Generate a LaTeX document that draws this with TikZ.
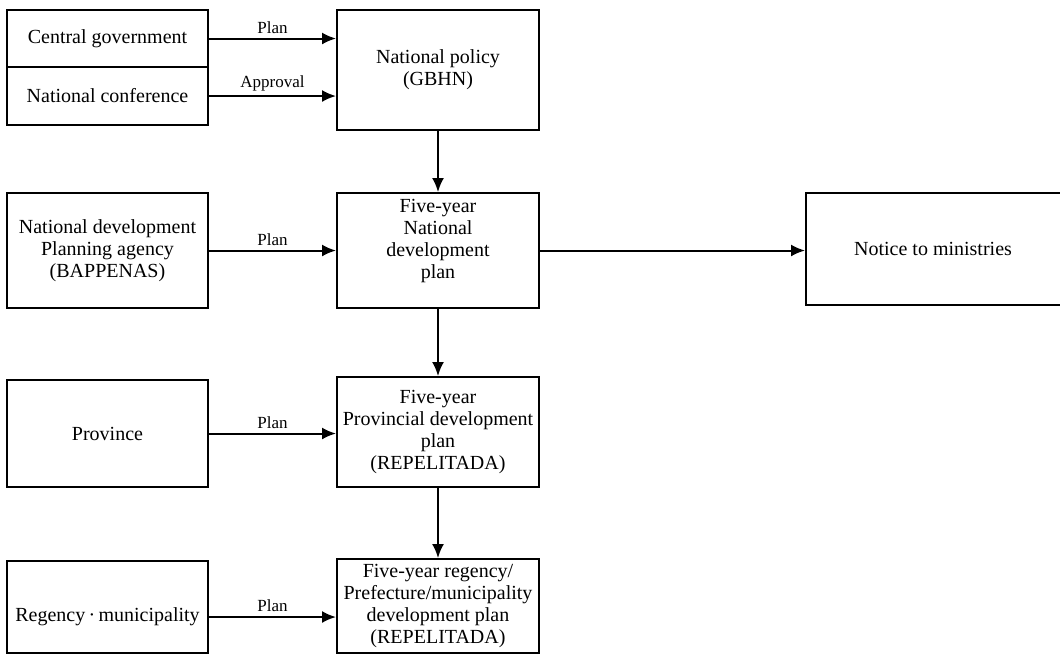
\documentclass[tikz,border=0pt]{standalone}
\usepackage{fontspec}
\setmainfont{Liberation Serif}
\usetikzlibrary{arrows.meta,calc}
\begin{document}
\begin{tikzpicture}[x=0.5pt,y=-0.5pt,
  box/.style={draw,line width=1pt,inner sep=0pt,align=center,font=\fontsize{10}{11}\selectfont},
  txt/.style={align=center,font=\fontsize{10}{11}\selectfont,inner sep=0pt},
  lbl/.style={font=\fontsize{8.5}{9}\selectfont,inner sep=2pt},
  arr/.style={line width=1pt,-{Latex[length=7pt,width=6pt]}}]
\clip (0,0) rectangle (1060,666);
\useasboundingbox (0,0) rectangle (1060,666);
% left column
\node[box,minimum width=100.5pt,minimum height=28.5pt] (cg) at (107.5,38.5) {Central government};
\node[box,minimum width=100.5pt,minimum height=29pt] (nc) at (107.5,96) {National conference};
\node[box,minimum width=100.5pt,minimum height=57.5pt] (bapp) at (107.5,250.5) {National development\\Planning agency\\(BAPPENAS)};
\node[box,minimum width=100.5pt,minimum height=53.5pt] (prov) at (107.5,433.5) {Province};
\node[box,minimum width=100.5pt,minimum height=46pt] (reg) at (107.5,607) {};
\node[txt] (regt) at (107.5,617) {Regency\,·\,municipality};
% centre column
\node[box,minimum width=101pt,minimum height=60pt] (np) at (438,70) {National policy\\(GBHN)};
\node[box,minimum width=101pt,minimum height=57.5pt] (fyn) at (438,250.5) {};
\node[txt] (fynt) at (438,241) {Five-year\\National\\development\\plan};
\node[box,minimum width=101pt,minimum height=55pt] (fyp) at (438,432) {Five-year\\Provincial development\\plan\\(REPELITADA)};
\node[box,minimum width=101pt,minimum height=47pt] (fyr) at (438,606) {Five-year regency/\\Prefecture/municipality\\development plan\\(REPELITADA)};
% right
\node[box,minimum width=145pt,minimum height=56pt] (notice) at (951,249) {};
\node[txt] (noticet) at (933,249) {Notice to ministries};
% connectors
\draw[arr] (cg.east) -- (cg.east -| np.west) node[lbl,midway,above] {Plan};
\draw[arr] (nc.east) -- (nc.east -| np.west) node[lbl,midway,above] {Approval};
\draw[arr] (np.south) -- (fyn.north);
\draw[arr] (bapp.east) -- (bapp.east -| fyn.west) node[lbl,midway,above] {Plan};
\draw[arr] (fyn.east) -- (fyn.east -| notice.west);
\draw[arr] (fyn.south) -- (fyp.north);
\draw[arr] (prov.east) -- (prov.east -| fyp.west) node[lbl,midway,above] {Plan};
\draw[arr] (fyp.south) -- (fyr.north);
\draw[arr] (regt -| reg.east) -- (regt -| fyr.west) node[lbl,midway,above] {Plan};
\end{tikzpicture}
\end{document}
